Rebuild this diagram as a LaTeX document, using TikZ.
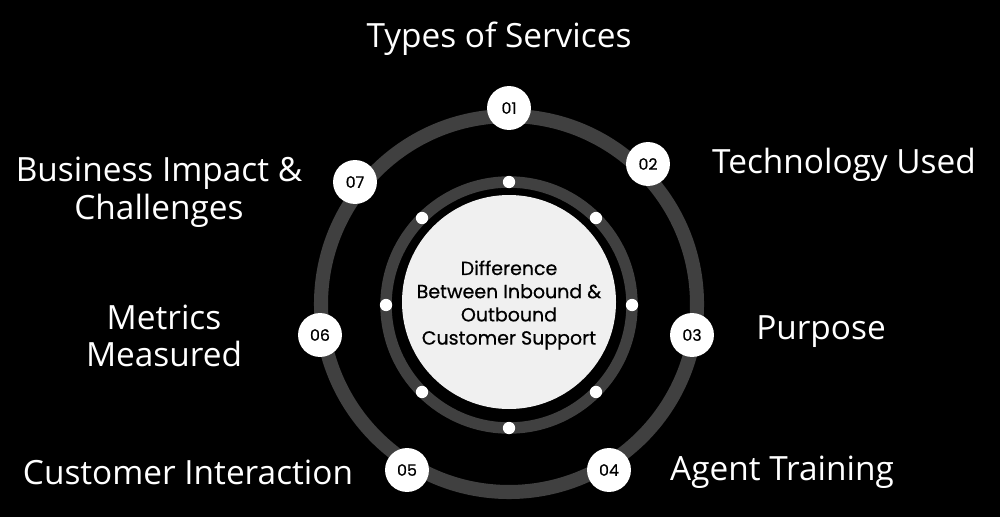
\documentclass[tikz,border=0pt]{standalone}
\usepackage{fontspec}
\usetikzlibrary{calc}
\setmainfont{Open Sans}
\newfontfamily\geofont{Poppins}[FakeBold=0.6]
\definecolor{ringgray}{HTML}{404040}
\definecolor{hubgray}{HTML}{F0F0F0}
\tikzset{
  numnode/.style={circle, fill=white, minimum size=25pt, inner sep=0pt, font=\geofont\fontsize{9}{10}\selectfont, text=black},
  toplabel/.style={text=white, font=\fontsize{19}{21.5}\selectfont, align=center},
  dotnode/.style={circle, fill=white, minimum size=7pt, inner sep=0pt}
}
\begin{document}
\begin{tikzpicture}[x=0.02cm, y=-0.02cm]
		
		% Background
		\fill[black] (0,0) rectangle (1000,517);
		\useasboundingbox (0,0) rectangle (1000,517);
		
		% Rings
		\draw[ringgray, line width=8pt] (509,304) circle (188);
		\draw[ringgray, line width=6.5pt] (509,305) circle (123);
		\fill[hubgray] (509,302) circle (107);
		\node[font=\geofont\fontsize{10.8}{13.2}\selectfont, align=center] (hub) at (509,305)
		      {Difference\\Between Inbound \&\\Outbound\\Customer Support};
		
		% Dots on the inner ring
		\foreach \a in {0,45,...,315}
		  \node[dotnode] at ($(509,305)+(\a:123)$) {};
		
		% Numbered steps
		\node[numnode] (n1) at (509,108) {01};
		\node[numnode] (n2) at (648,164) {02};
		\node[numnode] (n3) at (692,335) {03};
		\node[numnode] (n4) at (609,470) {04};
		\node[numnode] (n5) at (407,470) {05};
		\node[numnode] (n6) at (320,335) {06};
		\node[numnode] (n7) at (355,182) {07};
		
		% Labels
		\node[toplabel] (l1) at (499,39) {Types of Services};
		\node[toplabel] (l2) at (844,165) {Technology Used};
		\node[toplabel] (l3) at (821,332) {Purpose};
		\node[toplabel] (l4) at (782,472) {Agent Training};
		\node[toplabel] (l5) at (188,472) {Customer Interaction};
		\node[toplabel] (l6) at (164,336) {Metrics\\Measured};
		\node[toplabel] (l7) at (159,192) {Business Impact \&\\Challenges};
		
	\end{tikzpicture}
\end{document}
